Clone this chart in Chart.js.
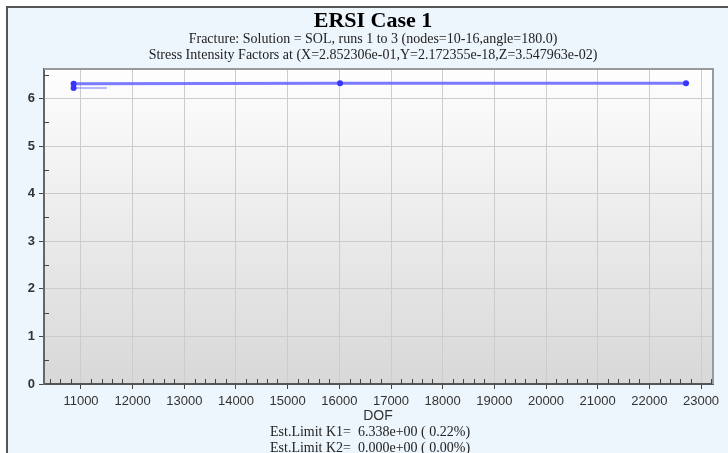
<!DOCTYPE html>
<html>
<head>
<meta charset="utf-8">
<script src="https://cdn.jsdelivr.net/npm/chart.js@4/dist/chart.umd.min.js"></script>
<style>
  html, body { margin: 0; padding: 0; background: #ffffff; }
  #wrap { width: 728px; height: 453px; }
</style>
</head>
<body>
<div id="wrap"><canvas id="c" width="728" height="453"></canvas></div>
<script>
// Mesh refinement study: K1 against degrees of freedom
const dof = [10857, 16013, 22710];
const k1 = [6.312, 6.318, 6.322];
const refDof = [10857, 11503];
const refK1 = [6.22, 6.22];

const xTicks = [11000, 12000, 13000, 14000, 15000, 16000, 17000, 18000, 19000, 20000, 21000, 22000, 23000];
const yTicks = [0, 1, 2, 3, 4, 5, 6];

const chartTitle = 'ERSI Case 1';
const subtitle1 = 'Fracture: Solution = SOL, runs 1 to 3 (nodes=10-16,angle=180.0)';
const subtitle2 = 'Stress Intensity Factors at (X=2.852306e-01,Y=2.172355e-18,Z=3.547963e-02)';
const xTitle = 'DOF';
const footer = ['Est.Limit K1=  6.338e+00 ( 0.22%)', 'Est.Limit K2=  0.000e+00 ( 0.00%)'];

const xMin = 10284, xMax = 23232;
const yMin = 0, yMax = 6.62;

const frame = {
  id: 'frame',
  beforeDraw(chart) {
    const { ctx, chartArea: a } = chart;
    ctx.save();
    ctx.fillStyle = '#ffffff';
    ctx.fillRect(0, 0, chart.width, chart.height);
    ctx.fillStyle = '#eef6fd';
    ctx.fillRect(7, 7, chart.width - 7, chart.height - 7);
    ctx.strokeStyle = '#555555';
    ctx.lineWidth = 2;
    ctx.beginPath();
    ctx.moveTo(7, chart.height);
    ctx.lineTo(7, 7);
    ctx.lineTo(chart.width, 7);
    ctx.stroke();
    // plot background
    const g = ctx.createLinearGradient(0, a.top, 0, a.bottom);
    g.addColorStop(0, '#fefefe');
    g.addColorStop(1, '#d8d8d8');
    ctx.fillStyle = g;
    ctx.fillRect(a.left, a.top, a.right - a.left, a.bottom - a.top);
    ctx.restore();
  },
  afterDraw(chart) {
    const { ctx, chartArea: a, scales } = chart;
    const xs = scales.x, ys = scales.y;
    ctx.save();
    // top and right border of the plot
    ctx.strokeStyle = '#9a9a9a';
    ctx.lineWidth = 2;
    ctx.beginPath();
    ctx.moveTo(a.left, a.top);
    ctx.lineTo(a.right, a.top);
    ctx.lineTo(a.right, a.bottom);
    ctx.stroke();
    // minor ticks
    ctx.strokeStyle = '#444444';
    ctx.lineWidth = 1;
    ctx.beginPath();
    for (let v = 10400; v <= xMax; v += 200) {
      if (v % 1000 === 0) continue;
      const px = Math.round(xs.getPixelForValue(v)) + 0.5;
      ctx.moveTo(px, a.bottom);
      ctx.lineTo(px, a.bottom - 5);
    }
    for (let v = 0.5; v <= yMax; v += 1) {
      const py = Math.round(ys.getPixelForValue(v)) + 0.5;
      ctx.moveTo(a.left, py);
      ctx.lineTo(a.left + 5, py);
    }
    ctx.stroke();

    // titles
    ctx.fillStyle = '#000000';
    ctx.textAlign = 'center';
    ctx.textBaseline = 'alphabetic';
    ctx.font = 'bold 22px "Liberation Serif", "Times New Roman", serif';
    ctx.fillText(chartTitle, 373, 27);
    ctx.fillStyle = '#222222';
    ctx.font = '14px "Liberation Serif", "Times New Roman", serif';
    ctx.fillText(subtitle1, 373, 43);
    ctx.fillText(subtitle2, 373, 59);

    // axis title
    ctx.fillStyle = '#333333';
    ctx.font = '14px "Liberation Sans", Arial, sans-serif';
    ctx.fillText(xTitle, 378, 420);

    // footer
    ctx.fillStyle = '#222222';
    ctx.textAlign = 'left';
    ctx.font = '14px "Liberation Serif", "Times New Roman", serif';
    ctx.fillText(footer[0], 270, 436);
    ctx.fillText(footer[1], 270, 452);
    ctx.restore();
  }
};

new Chart(document.getElementById('c'), {
  type: 'scatter',
  data: {
    datasets: [
      {
        label: 'K1',
        data: dof.map((d, i) => ({ x: d, y: k1[i] })),
        showLine: true,
        borderColor: 'rgba(90,90,255,0.8)',
        borderWidth: 3,
        pointRadius: 3,
        pointBackgroundColor: '#3535ff',
        pointBorderColor: '#3535ff',
        pointBorderWidth: 0
      },
      {
        label: 'K1 ref',
        data: refDof.map((d, i) => ({ x: d, y: refK1[i] })),
        showLine: true,
        borderColor: 'rgba(120,120,255,0.7)',
        borderWidth: 1.5,
        pointRadius: [3, 0],
        pointBackgroundColor: '#3535ff',
        pointBorderColor: '#3535ff',
        pointBorderWidth: 0
      }
    ]
  },
  options: {
    responsive: false,
    animation: false,
    devicePixelRatio: 1,
    layout: { padding: { top: 69, right: 15, left: 0, bottom: 0 } },
    plugins: { legend: { display: false }, tooltip: { enabled: false }, title: { display: false } },
    scales: {
      x: {
        type: 'linear',
        min: xMin,
        max: xMax,
        afterFit: s => { s.height = 69; },
        afterBuildTicks: s => { s.ticks = xTicks.map(v => ({ value: v })); },
        ticks: {
          autoSkip: false,
          maxRotation: 0,
          padding: 5,
          color: '#333333',
          font: { family: '"Liberation Sans", Arial, sans-serif', size: 13 },
          callback: v => String(v)
        },
        grid: { color: '#cccccc', tickColor: '#444444', tickLength: 5, lineWidth: 1 },
        border: { color: '#555555', width: 2 }
      },
      y: {
        type: 'linear',
        min: yMin,
        max: yMax,
        afterFit: s => { s.width = 44; },
        afterBuildTicks: s => { s.ticks = yTicks.map(v => ({ value: v })); },
        ticks: {
          padding: 4,
          color: '#333333',
          font: { family: '"Liberation Sans", Arial, sans-serif', size: 13, weight: 'bold' },
          callback: v => String(v)
        },
        grid: { color: '#cccccc', tickColor: '#444444', tickLength: 5, lineWidth: 1 },
        border: { color: '#666666', width: 2 }
      }
    }
  },
  plugins: [frame]
});
</script>
</body>
</html>
